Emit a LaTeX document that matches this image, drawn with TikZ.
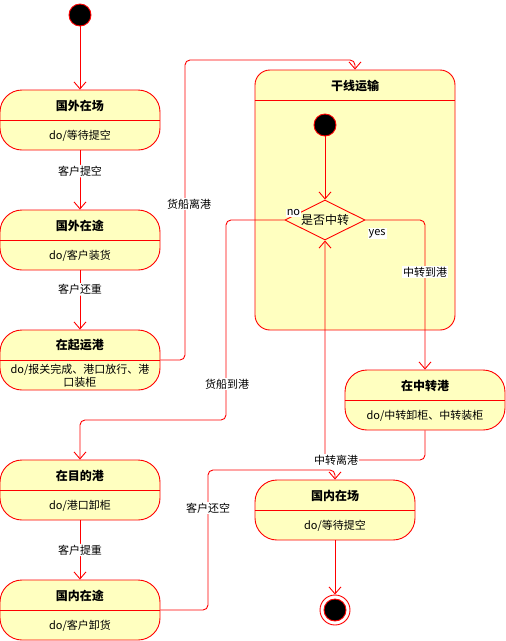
\documentclass[tikz,border=0pt]{standalone}
\usepackage{fontspec}
\setmainfont{Noto Sans CJK SC}
\usetikzlibrary{shapes.geometric,arrows.meta}
\definecolor{umlred}{HTML}{FF0000}
\definecolor{umlyellow}{HTML}{FFFFC0}

\begin{document}
\begin{tikzpicture}[x=1pt,y=-1pt,
        font=\fontsize{11}{13}\selectfont,
        state/.style={draw=umlred,fill=umlyellow,rounded corners=22pt,minimum width=160pt,minimum height=60pt,inner sep=0pt,line width=0.9pt},
        comp/.style={draw=umlred,fill=umlyellow,rounded corners=15pt,minimum width=200pt,minimum height=260pt,inner sep=0pt,line width=0.9pt},
        ttl/.style={inner sep=0pt,font=\fontsize{12}{14}\selectfont\bfseries},
        txt/.style={inner sep=0pt,align=center},
        divline/.style={draw=umlred,line width=0.9pt},
        startdot/.style={circle,draw=umlred,fill=black,minimum size=22pt,inner sep=0pt,line width=0.9pt},
        enddot/.style={circle,draw=umlred,fill=white,minimum size=30pt,inner sep=0pt,line width=0.9pt},
        choice/.style={diamond,draw=umlred,fill=umlyellow,aspect=2,minimum width=80pt,minimum height=40pt,inner sep=1pt,line width=0.9pt,font=\fontsize{12}{14}\selectfont},
        trans/.style={draw=umlred,line width=0.9pt,rounded corners=5pt,-{Straight Barb[length=7pt,width=12pt]}},
        lbl/.style={fill=white,inner sep=1pt,font=\fontsize{11}{13}\selectfont}]

    \useasboundingbox (0,0) rectangle (506,641);

    % left column
    \node[startdot] (init) at (80,15) {};

    \node[state] (s1) at (80,120) {};
    \draw[divline] (s1.west) -- (s1.east);
    \node[ttl] (s1t) at ([yshift=14pt]s1.center) {国外在场};
    \node[txt] (s1b) at ([yshift=-16pt]s1.center) {do/等待提空};

    \node[state] (s2) at (80,240) {};
    \draw[divline] (s2.west) -- (s2.east);
    \node[ttl] (s2t) at ([yshift=14pt]s2.center) {国外在途};
    \node[txt] (s2b) at ([yshift=-16pt]s2.center) {do/客户装货};

    \node[state] (s3) at (80,360) {};
    \draw[divline] (s3.west) -- (s3.east);
    \node[ttl] (s3t) at ([yshift=15pt]s3.center) {在起运港};
    \node[txt] (s3b) at ([yshift=-16pt]s3.center) {do/报关完成、港口放行、港\\口装柜};

    \node[state] (s4) at (80,490) {};
    \draw[divline] (s4.west) -- (s4.east);
    \node[ttl] (s4t) at ([yshift=14pt]s4.center) {在目的港};
    \node[txt] (s4b) at ([yshift=-16pt]s4.center) {do/港口卸柜};

    \node[state] (s5) at (80,610) {};
    \draw[divline] (s5.west) -- (s5.east);
    \node[ttl] (s5t) at ([yshift=14pt]s5.center) {国内在途};
    \node[txt] (s5b) at ([yshift=-16pt]s5.center) {do/客户卸货};

    % composite state
    \node[comp] (main) at (355,200) {};
    \draw[divline] (main.west |- 0,100) -- (main.east |- 0,100);
    \node[ttl] (maint) at (355,86) {干线运输};
    \node[startdot] (init2) at (325,125) {};
    \node[choice] (dec) at (325,220) {是否中转};

    % right column
    \node[state] (s6) at (425,400) {};
    \draw[divline] (s6.west) -- (s6.east);
    \node[ttl] (s6t) at ([yshift=14pt]s6.center) {在中转港};
    \node[txt] (s6b) at ([yshift=-16pt]s6.center) {do/中转卸柜、中转装柜};

    \node[state] (s7) at (335,510) {};
    \draw[divline] (s7.west) -- (s7.east);
    \node[ttl] (s7t) at ([yshift=14pt]s7.center) {国内在场};
    \node[txt] (s7b) at ([yshift=-16pt]s7.center) {do/等待提空};

    \node[enddot] (fin) at (335,610) {};
    \node[startdot] (fin2) at (fin) {};

    % transitions
    \draw[trans] (init) -- (s1);
    \draw[trans] (s1) -- node[lbl,pos=0.35] (l1) {客户提空} (s2);
    \draw[trans] (s2) -- node[lbl,pos=0.32] (l2) {客户还重} (s3);
    \draw[trans] (s3.east) -| (185,60) -| (main.north);
    \node[lbl] (l3) at (189,204) {货船离港};
    \draw[trans] (init2) -- (dec.north);
    \draw[trans] (dec.west) -| (226,420) -| (s4.north);
    \node[lbl,anchor=south west] (lno) at ([xshift=1pt,yshift=3pt]dec.west) {no};
    \node[lbl] (l4) at (227,384) {货船到港};
    \draw[trans] (dec.east) -| (s6.north);
    \node[lbl,anchor=north west] (lyes) at ([xshift=2pt,yshift=-8pt]dec.east) {yes};
    \node[lbl] (l5) at (425,272) {中转到港};
    \draw[trans] (s6.south) -- (425,460) -| (dec.south);
    \node[lbl] (l6) at (336,460) {中转离港};
    \draw[trans] (s4) -- node[lbl] (l7) {客户提重} (s5);
    \draw[trans] (s5.east) -| (208,470) -| (s7.north);
    \node[lbl] (l8) at (208,508) {客户还空};
    \draw[trans] (s7) -- (fin);
\end{tikzpicture}
\end{document}
